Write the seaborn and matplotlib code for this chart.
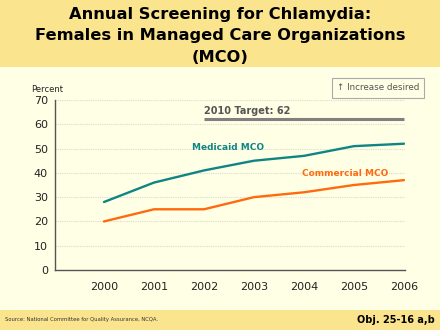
import matplotlib
matplotlib.use("Agg")
import matplotlib.pyplot as plt
import seaborn as sns
import pandas as pd
from matplotlib.patches import Rectangle

years = [2000, 2001, 2002, 2003, 2004, 2005, 2006]
medicaid = [28, 36, 41, 45, 47, 51, 52]
commercial = [20, 25, 25, 30, 32, 35, 37]
target_years = [2002, 2006]
target_value = 62

df = pd.DataFrame({
    "Year": years * 2,
    "Percent": medicaid + commercial,
    "Series": ["Medicaid MCO"] * len(years) + ["Commercial MCO"] * len(years),
})

sns.set_style("white")
plt.rcParams['font.family'] = ['DejaVu Sans']

TEAL = "#0E8584"
ORANGE = "#FF6A0F"
GREY = "#808080"
CREAM = "#FFFFE6"
BAND = "#FBE48E"

fig = plt.figure(figsize=(4.4, 3.3), dpi=100)
fig.patch.set_facecolor(CREAM)
fig.add_artist(Rectangle((0, 1 - 67 / 330), 1, 67 / 330, transform=fig.transFigure,
                         facecolor=BAND, edgecolor="none", zorder=0))
fig.add_artist(Rectangle((0, 0), 1, 20 / 330, transform=fig.transFigure,
                         facecolor=BAND, edgecolor="none", zorder=0))

ax = fig.add_axes([55 / 440, 1 - 270 / 330, 350 / 440, 170 / 330])
ax.set_facecolor(CREAM)

sns.lineplot(data=df, x="Year", y="Percent", hue="Series",
             palette={"Medicaid MCO": TEAL, "Commercial MCO": ORANGE},
             linewidth=1.7, legend=False, ax=ax)
ax.plot(target_years, [target_value] * 2, color=GREY, linewidth=2.2, solid_capstyle="butt")

ax.set_xlim(1999.02, 2006.02)
ax.set_ylim(0, 70)
ax.set_yticks(range(0, 71, 10))
ax.set_xticks(years)
ax.set_xticklabels([str(y) for y in years])
for y in range(10, 71, 10):
    ax.axhline(y, color="#DADACB", linewidth=0.8, linestyle=(0, (1, 1)), zorder=0)

for s in ["top", "right"]:
    ax.spines[s].set_visible(False)
for s in ["left", "bottom"]:
    ax.spines[s].set_color("#555555")
    ax.spines[s].set_linewidth(1.0)
ax.tick_params(axis="both", which="both", direction="out", length=3, width=0.8,
               color="#555555", labelsize=8, labelcolor="#222222")
ax.tick_params(axis="x", pad=6)
ax.tick_params(axis="y", pad=2)
ax.set_xlabel("")
ax.set_ylabel("")

fig.text(31 / 440, 1 - 90 / 330, "Percent", fontsize=6, color="#222222", ha="left", va="center")

ax.text(2002.0, 63.5, "2010 Target: 62", fontsize=7, fontweight="bold", color="#555555",
        ha="left", va="bottom")
ax.text(2001.76, 50.6, "Medicaid MCO", fontsize=6.5, fontweight="bold", color=TEAL,
        ha="left", va="center")
ax.text(2003.96, 39.9, "Commercial MCO", fontsize=6.5, fontweight="bold", color=ORANGE,
        ha="left", va="center")

for i, line in enumerate(["Annual Screening for Chlamydia:",
                          "Females in Managed Care Organizations",
                          "(MCO)"]):
    fig.text(0.5, 1 - (14 + 21.5 * i) / 330, line, ha="center", va="center",
             fontsize=11.7, fontweight="bold", color="#000000")

fig.text(378 / 440, 1 - 88 / 330, "\u2191 Increase desired", fontsize=6.3, color="#555555",
         ha="center", va="center",
         bbox=dict(boxstyle="square,pad=0.6", facecolor=CREAM, edgecolor="#AAAAAA", linewidth=0.8))

fig.text(5 / 440, 10 / 330, "Source: National Committee for Quality Assurance, NCQA.",
         fontsize=3.8, color="#333333", ha="left", va="center")
fig.text(435 / 440, 10 / 330, "Obj. 25-16 a,b", fontsize=7, fontweight="bold",
         color="#000000", ha="right", va="center")

fig.savefig("out.png", dpi=100, facecolor=fig.get_facecolor())
